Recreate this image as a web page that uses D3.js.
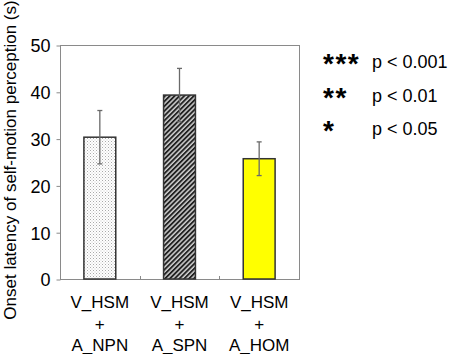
<!DOCTYPE html>
<html>
<head>
<meta charset="utf-8">
<script src="https://cdn.jsdelivr.net/npm/d3@7"></script>
<style>
  body { margin: 0; background: #fff; }
  svg text { font-family: Arial, "Liberation Sans", sans-serif; fill: #000; }
</style>
</head>
<body>
<div id="chart"></div>
<script>
// data
const categories = ['V_HSM + A_NPN', 'V_HSM + A_SPN', 'V_HSM + A_HOM'];
const labelLines = [['V_HSM', '+', 'A_NPN'], ['V_HSM', '+', 'A_SPN'], ['V_HSM', '+', 'A_HOM']];
const means = [30.3, 39.3, 25.7];
const errors = [5.7, 5.7, 3.6];
const yTicks = [0, 10, 20, 30, 40, 50];
const legendStars = ['***', '**', '*'];
const legendText = ['p < 0.001', 'p < 0.01', 'p < 0.05'];

const width = 454, height = 354;
const margin = ({top: 45, right: 155, bottom: 75, left: 60});

const svg = d3.select('#chart').append('svg')
    .attr('width', width)
    .attr('height', height);

// fills
const defs = svg.append('defs');
let dots = defs.append('pattern')
    .attr('id', 'dots').attr('patternUnits', 'userSpaceOnUse')
    .attr('width', 3).attr('height', 3);
dots.append('rect').attr('width', 3).attr('height', 3).attr('fill', '#fff');
dots.append('rect').attr('x', 0).attr('y', 0).attr('width', 1).attr('height', 1).attr('fill', '#aaa');
dots.append('rect').attr('x', 1.5).attr('y', 1.5).attr('width', 1).attr('height', 1).attr('fill', '#c8c8c8');

let hatch = defs.append('pattern')
    .attr('id', 'hatch').attr('patternUnits', 'userSpaceOnUse')
    .attr('width', 3.4).attr('height', 3.4)
    .attr('patternTransform', 'rotate(45)');
hatch.append('rect').attr('width', 3.4).attr('height', 3.4).attr('fill', '#d0d0d0');
hatch.append('rect').attr('width', 1.9).attr('height', 3.4).attr('fill', '#222');

const fills = ['url(#dots)', 'url(#hatch)', '#ffff00'];

let x = d3.scaleBand()
    .domain(categories)
    .range([margin.left, width - margin.right])
    .paddingInner(0.6)
    .paddingOuter(0.3);

let y = d3.scaleLinear()
    .domain([0, 50])
    .range([height - margin.bottom, margin.top]);

// frame
svg.append('rect')
    .attr('x', margin.left + 0.5)
    .attr('y', y(50) + 0.5)
    .attr('width', width - margin.right - margin.left)
    .attr('height', y(0) - y(50))
    .attr('fill', 'none')
    .attr('stroke', '#8a8a8a')
    .attr('stroke-width', 1);

// y axis
let yAxis = d3.axisLeft(y).tickValues(yTicks).tickSize(4).tickPadding(6).tickSizeOuter(0);
let yg = svg.append('g')
    .attr('transform', `translate(${margin.left + 0.5},0.5)`)
    .call(yAxis);
yg.select('.domain').remove();
yg.selectAll('line').attr('stroke', '#8a8a8a');
yg.selectAll('text').style('font-size', '18px').attr('dy', '0.36em');

// category separator ticks (inside, pointing up)
let sepTicks = categories.slice(0, -1).map(c => x(c) + x.bandwidth() + x.step() * x.paddingInner() / 2);
svg.selectAll('line.sep')
    .data(sepTicks)
    .enter().append('line')
    .attr('class', 'sep')
    .attr('x1', d => Math.round(d) + 0.5).attr('x2', d => Math.round(d) + 0.5)
    .attr('y1', y(0)).attr('y2', y(0) - 3)
    .attr('stroke', '#8a8a8a');

// bars
svg.selectAll('rect.bar')
    .data(means)
    .enter().append('rect')
    .attr('class', 'bar')
    .attr('x', (d, i) => x(categories[i]))
    .attr('y', d => y(d))
    .attr('width', x.bandwidth())
    .attr('height', d => y(0) - y(d))
    .attr('fill', (d, i) => fills[i])
    .attr('stroke', '#333')
    .attr('stroke-width', 1.5);

// error bars
let err = svg.selectAll('g.err')
    .data(means)
    .enter().append('g')
    .attr('class', 'err')
    .attr('transform', (d, i) => `translate(${x(categories[i]) + x.bandwidth() / 2},0)`);
err.append('line')
    .attr('y1', (d, i) => y(d + errors[i]))
    .attr('y2', (d, i) => y(d - errors[i]))
    .attr('stroke', '#6a6a6a').attr('stroke-width', 1.3);
err.append('line')
    .attr('x1', -2.5).attr('x2', 2.5)
    .attr('y1', (d, i) => y(d + errors[i]))
    .attr('y2', (d, i) => y(d + errors[i]))
    .attr('stroke', '#6a6a6a').attr('stroke-width', 1.3);
err.append('line')
    .attr('x1', -2.5).attr('x2', 2.5)
    .attr('y1', (d, i) => y(d - errors[i]))
    .attr('y2', (d, i) => y(d - errors[i]))
    .attr('stroke', '#6a6a6a').attr('stroke-width', 1.3);

// category labels
let catLabel = svg.selectAll('text.cat')
    .data(labelLines)
    .enter().append('text')
    .attr('class', 'cat')
    .attr('text-anchor', 'middle')
    .style('font-size', '17px');
catLabel.selectAll('tspan')
    .data((d, i) => d.map(t => ({t: t, i: i})))
    .enter().append('tspan')
    .attr('x', d => x(categories[d.i]) + x.bandwidth() / 2)
    .attr('y', (d, j) => y(0) + 29 + j * 21.5)
    .text(d => d.t);

// y axis label
svg.append('text')
    .attr('text-anchor', 'middle')
    .attr('transform', 'rotate(-90)')
    .attr('x', -160)
    .attr('y', 16)
    .style('font-size', '17px')
    .text('Onset latency of self-motion perception (s)');

// legend
let legend = svg.selectAll('g.legend')
    .data(legendText)
    .enter().append('g')
    .attr('class', 'legend')
    .attr('transform', (d, i) => `translate(${width - margin.right + 24}, ${68 + i * 33.5})`);
legend.append('text')
    .attr('x', 0).attr('y', 5)
    .style('font-size', '28px')
    .style('font-weight', 'bold')
    .style('letter-spacing', '1.5px')
    .text((d, i) => legendStars[i]);
legend.append('text')
    .attr('x', 49).attr('y', 0)
    .style('font-size', '18px')
    .text(d => d);
</script>
</body>
</html>
